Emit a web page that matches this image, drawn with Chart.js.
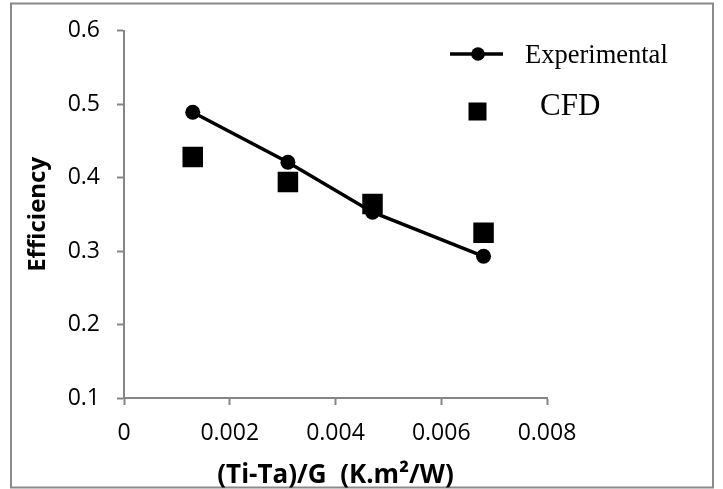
<!DOCTYPE html>
<html>
<head>
<meta charset="utf-8">
<script src="https://cdn.jsdelivr.net/npm/chart.js@4/dist/chart.umd.min.js"></script>
<style>
  html, body { margin: 0; padding: 0; background: #ffffff; }
  #wrap { position: relative; width: 723px; height: 489px; }
</style>
</head>
<body>
<div id="wrap"><canvas id="c" width="723" height="489"></canvas></div>
<script>
// Efficiency versus reduced temperature parameter
const xValues = [0.0013, 0.0031, 0.0047, 0.0068];
const experimental = [0.489, 0.421, 0.353, 0.293];
const cfd = [0.428, 0.394, 0.364, 0.325];
const seriesNames = ['Experimental', 'CFD'];
const xTickLabels = ['0', '0.002', '0.004', '0.006', '0.008'];
const yTickLabels = ['0.1', '0.2', '0.3', '0.4', '0.5', '0.6'];
const xTitle = '(Ti-Ta)/G  (K.m\u00B2/W)';
const yTitle = 'Efficiency';

const AXIS_GREY = '#868686';
const SANS = '"Open Sans", "Liberation Sans", Arial, sans-serif';
const SERIF = '"Liberation Serif", "Times New Roman", serif';

const toPoints = ys => xValues.map((x, i) => ({ x: x, y: ys[i] }));

// Outer frame around the whole figure
const framePlugin = {
  id: 'frame',
  beforeDraw(chart) {
    const ctx = chart.ctx;
    ctx.save();
    ctx.fillStyle = '#ffffff';
    ctx.fillRect(0, 0, chart.width, chart.height);
    ctx.strokeStyle = '#8a8a8a';
    ctx.lineWidth = 2;
    ctx.strokeRect(11, 3.5, 702, 484);
    ctx.restore();
  }
};

// Legend drawn inside the plot area, top right
const legendPlugin = {
  id: 'insideLegend',
  afterDraw(chart) {
    const ctx = chart.ctx;
    const [expDs, cfdDs] = chart.data.datasets;
    ctx.save();
    // line + circle entry
    ctx.strokeStyle = expDs.borderColor;
    ctx.lineWidth = expDs.borderWidth;
    ctx.beginPath();
    ctx.moveTo(450, 54);
    ctx.lineTo(503, 54);
    ctx.stroke();
    ctx.fillStyle = expDs.pointBackgroundColor;
    ctx.beginPath();
    ctx.arc(478, 54, 6.8, 0, Math.PI * 2);
    ctx.fill();
    ctx.fillStyle = '#000000';
    ctx.textBaseline = 'alphabetic';
    ctx.textAlign = 'left';
    ctx.font = '26.5px ' + SERIF;
    ctx.fillText(expDs.label, 525, 63);
    // square entry
    ctx.fillStyle = cfdDs.pointBackgroundColor;
    ctx.fillRect(477.5 - 9, 111.5 - 9, 18, 18);
    ctx.fillStyle = '#000000';
    ctx.font = '31px ' + SERIF;
    ctx.fillText(cfdDs.label, 540, 115);
    ctx.restore();
  }
};

new Chart(document.getElementById('c'), {
  type: 'scatter',
  data: {
    datasets: [
      {
        label: seriesNames[0],
        data: toPoints(experimental),
        showLine: true,
        borderColor: '#000000',
        backgroundColor: '#000000',
        borderWidth: 3.5,
        pointStyle: 'circle',
        pointRadius: 7.5,
        pointBorderWidth: 0,
        pointBackgroundColor: '#000000',
        order: 2
      },
      {
        label: seriesNames[1],
        data: toPoints(cfd),
        showLine: false,
        borderColor: '#000000',
        backgroundColor: '#000000',
        pointStyle: 'rect',
        pointRadius: 14.5,
        pointBorderWidth: 0,
        pointBackgroundColor: '#000000',
        order: 1
      }
    ]
  },
  options: {
    responsive: false,
    devicePixelRatio: 1,
    animation: false,
    layout: { padding: { left: 0, top: 29, right: 176, bottom: 0 } },
    plugins: {
      legend: { display: false },
      tooltip: { enabled: false }
    },
    scales: {
      x: {
        type: 'linear',
        min: 0,
        max: 0.008,
        afterBuildTicks(scale) {
          scale.ticks = xTickLabels.map(t => ({ value: parseFloat(t) }));
        },
        afterFit(scale) { scale.height = 91; },
        ticks: {
          callback: (v, i) => xTickLabels[i],
          color: '#000000',
          font: { family: SANS, size: 23 },
          padding: 15,
          maxRotation: 0,
          autoSkip: false
        },
        grid: {
          display: true,
          drawOnChartArea: false,
          drawTicks: true,
          tickLength: 7,
          tickWidth: 2,
          color: AXIS_GREY
        },
        border: { display: true, color: AXIS_GREY, width: 2 },
        title: {
          display: true,
          text: xTitle,
          color: '#000000',
          font: { family: SANS, size: 26, weight: 'bold', lineHeight: 1 },
          padding: { top: 0, bottom: 0 }
        }
      },
      y: {
        type: 'linear',
        min: 0.1,
        max: 0.6,
        afterBuildTicks(scale) {
          scale.ticks = yTickLabels.map(t => ({ value: parseFloat(t) }));
        },
        afterFit(scale) { scale.width = 124; },
        ticks: {
          callback: (v, i) => yTickLabels[i],
          color: '#000000',
          font: { family: SANS, size: 23 },
          padding: 17,
          autoSkip: false
        },
        grid: {
          display: true,
          drawOnChartArea: false,
          drawTicks: true,
          tickLength: 7,
          tickWidth: 2,
          color: AXIS_GREY
        },
        border: { display: true, color: AXIS_GREY, width: 2 },
        title: {
          display: true,
          text: yTitle,
          color: '#000000',
          font: { family: SANS, size: 24, weight: 'bold', lineHeight: 1.2 },
          padding: { top: 24, bottom: 0 }
        }
      }
    }
  },
  plugins: [framePlugin, legendPlugin]
});
</script>
</body>
</html>
